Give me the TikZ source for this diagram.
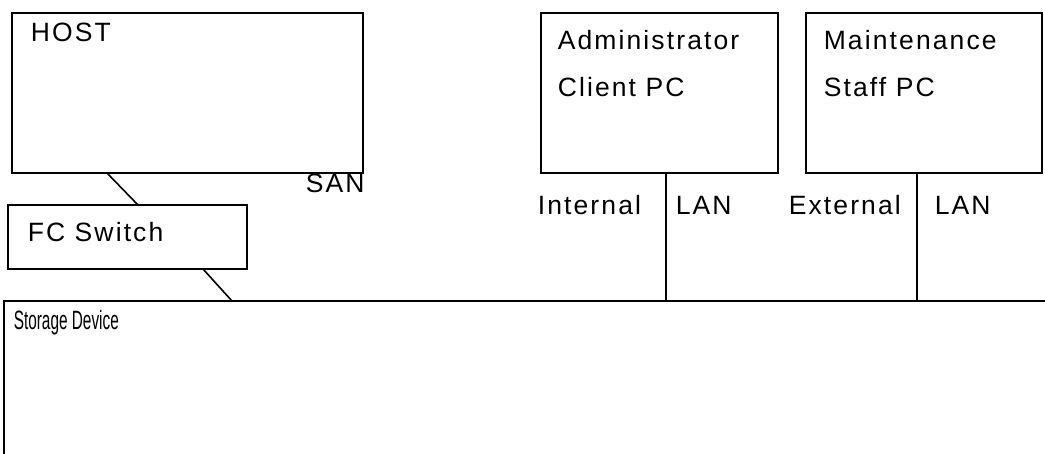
\documentclass[tikz,border=0pt]{standalone}
\usepackage{fontspec}
\usepackage{graphicx}
\setmainfont{Liberation Sans}[LetterSpace=8]
\newfontfamily\narrowfont{Liberation Sans}
\begin{document}
\begin{tikzpicture}[x=1pt,y=-1pt,line width=1.6pt,
	box/.style={rectangle, draw, inner sep=0pt, outer sep=0pt, anchor=north west},
	txt/.style={inner sep=0pt, anchor=base west, font=\fontsize{26.5}{30}\selectfont}]
	\useasboundingbox (0,0) rectangle (1045,454);
	\clip (0,0) rectangle (1045,454);
	% boxes
	\node (HOST) at (12,13)		[box, minimum width=351pt, minimum height=160pt]	{};
	\node (FC) at (8,205)		[box, minimum width=239pt, minimum height=64pt]		{};
	\node (ADM) at (541,13)		[box, minimum width=237pt, minimum height=160pt]	{};
	\node (MNT) at (806,13)		[box, minimum width=236pt, minimum height=160pt]	{};
	\node (STO) at (4,301)		[box, minimum width=1100pt, minimum height=200pt]	{};
	% labels
	\node (tHOST) at (30,42)	[txt]	{HOST};
	\node (tSAN) at (305,193)	[txt]	{SAN};
	\node (tFC) at (27,242)		[txt]	{FC Switch};
	\node (tADM1) at (557,50)	[txt]	{Administrator};
	\node (tADM2) at (557,97)	[txt]	{Client PC};
	\node (tMNT1) at (823,50)	[txt]	{Maintenance};
	\node (tMNT2) at (823,97)	[txt]	{Staff PC};
	\node (tINT) at (537,215)	[txt]	{Internal};
	\node (tLAN1) at (675,215)	[txt]	{LAN};
	\node (tEXT) at (788,215)	[txt]	{External};
	\node (tLAN2) at (934,215)	[txt]	{LAN};
	\node (tSTO) at (13,330)	[txt]	{\narrowfont\scalebox{0.58}[1]{Storage Device}};
	% links
	\draw ([xshift=95pt]HOST.south west) -- ([xshift=130pt]FC.north west);
	\draw ([xshift=195pt]FC.south west) -- ([xshift=228pt]STO.north west);
	\coordinate (pADM) at ([xshift=125pt]ADM.south west);
	\coordinate (pMNT) at ([xshift=111pt]MNT.south west);
	\draw (pADM) -- (pADM |- STO.north);
	\draw (pMNT) -- (pMNT |- STO.north);
\end{tikzpicture}
\end{document}
